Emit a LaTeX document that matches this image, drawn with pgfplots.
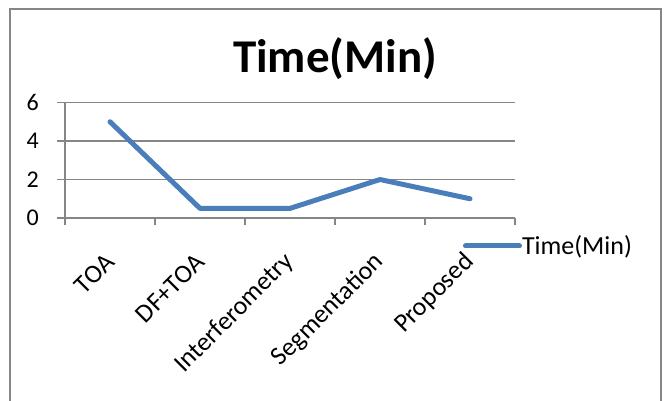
\documentclass[border=0pt]{standalone}
\usepackage{pgfplots}
\pgfplotsset{compat=1.18}
\usepackage{fontspec}
\setmainfont{Carlito}
\definecolor{xlblue}{HTML}{4A7EBB}
\definecolor{xlgray}{HTML}{868686}
\begin{document}
\begin{tikzpicture}[x=1pt,y=1pt]
\path[use as bounding box] (0,0) rectangle (667,400);
\draw[xlgray, line width=1.5pt] (10,-5) -- (10,391) -- (661,391) -- (661,-5);
\node[anchor=base, font=\fontsize{47}{47}\selectfont\bfseries] at (335,327) {Time(Min)};
\begin{axis}[
  at={(65pt,182pt)}, anchor=south west,
  width=450pt, height=115.5pt, scale only axis,
  xmin=-0.5, xmax=4.5, ymin=0, ymax=6,
  ytick={0,2,4,6},
  xtick={0,1,2,3,4},
  xticklabels={TOA,DF+TOA,Interferometry,Segmentation,Proposed},
  minor xtick={-0.5,0.5,1.5,2.5,3.5,4.5},
  major x tick style={draw=none},
  tick align=outside,
  major tick length=8pt,
  minor tick length=7pt,
  tick style={xlgray, line width=1.5pt},
  axis lines*=left,
  axis line style={xlgray, line width=1.5pt},
  ymajorgrids,
  grid style={xlgray, line width=1.5pt},
  /pgf/number format/assume math mode=true,
  tick label style={text=black},
  yticklabel style={font=\fontsize{24}{24}\selectfont, inner sep=0pt, xshift=-18pt},
  xticklabel shift=32pt,
  xticklabel style={font=\fontsize{26}{26}\selectfont, rotate=45, anchor=east, inner sep=0pt},
  legend style={at={(0.884,-0.242)}, anchor=west, draw=none, fill=none,
    inner sep=0pt, font=\fontsize{26}{26}\selectfont,
    nodes={inner sep=0pt}},
  legend image code/.code={\draw[#1, line cap=round] (0pt,0pt) -- (54pt,0pt);},
  /tikz/every even column/.append style={column sep=5pt},
  clip=false,
]
\addplot[xlblue, line width=5pt, line cap=round, line join=round] coordinates {
  (0,5) (1,0.5) (2,0.5) (3,2) (4,1)
};
\addlegendentry{Time(Min)}
\end{axis}
\end{tikzpicture}
\end{document}
